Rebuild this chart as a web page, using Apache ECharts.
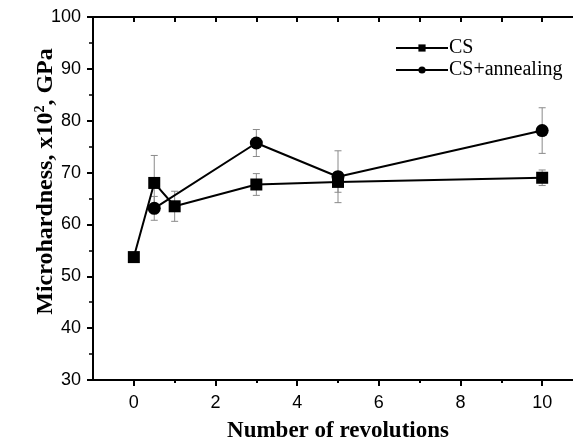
<!DOCTYPE html>
<html>
<head>
<meta charset="utf-8">
<script src="https://cdn.jsdelivr.net/npm/echarts@6/dist/echarts.min.js"></script>
<style>
  html, body { margin: 0; padding: 0; background: #fff; }
  #chart { width: 573px; height: 438px; }
</style>
</head>
<body>
<div id="chart"></div>
<script>
// number of revolutions
const revsCS = [0, 0.5, 1, 3, 5, 10]
const revsAnn = [0.5, 3, 5, 10]
// microhardness, x10^2 GPa
const cs = [53.7, 68.0, 63.5, 67.7, 68.2, 69.0]
const csErr = [0, 5.3, 2.9, 2.1, 2.0, 1.5]
const ann = [63.1, 75.7, 69.2, 78.1]
const annErr = [2.3, 2.6, 5.0, 4.4]
const xMajor = [0, 2, 4, 6, 8, 10]
const xMinor = [1, 3, 5, 7, 9]
const xAll = [0, 1, 2, 3, 4, 5, 6, 7, 8, 9, 10]

const serif = '"Liberation Serif", "Times New Roman", serif'
const sans = '"Liberation Sans", Arial, sans-serif'

function pairs(xs, ys) {
  return xs.map((x, i) => [x, ys[i]])
}
function errData(xs, ys, es) {
  return xs.map((x, i) => [x, ys[i] - es[i], ys[i] + es[i]])
}

// error bar with caps
function renderErr(params, api) {
  const lo = api.coord([api.value(0), api.value(1)])
  const hi = api.coord([api.value(0), api.value(2)])
  const cap = 3.5
  const style = { stroke: '#8a8a8a', lineWidth: 1 }
  return {
    type: 'group',
    children: [
      { type: 'line', shape: { x1: lo[0], y1: lo[1], x2: hi[0], y2: hi[1] }, style },
      { type: 'line', shape: { x1: lo[0] - cap, y1: lo[1], x2: lo[0] + cap, y2: lo[1] }, style },
      { type: 'line', shape: { x1: hi[0] - cap, y1: hi[1], x2: hi[0] + cap, y2: hi[1] }, style }
    ]
  }
}

const chart = echarts.init(document.getElementById('chart'))

const axisLine = { show: true, onZero: false, lineStyle: { color: '#000', width: 2 } }

const option = {
  animation: false,
  grid: { left: 93, top: 17, right: -10, bottom: 58, outerBoundsMode: 'none', containLabel: false },
  legend: {
    orient: 'vertical',
    left: 390,
    top: 33,
    itemWidth: 52,
    itemHeight: 9,
    itemGap: 2,
    textStyle: { fontFamily: serif, fontSize: 20, color: '#000', padding: [0, 0, 0, -4] },
    data: ['CS', 'CS+annealing']
  },
  xAxis: [
    {
      type: 'value',
      min: -1,
      max: 11,
      position: 'bottom',
      axisLine,
      splitLine: { show: false },
      axisTick: { show: true, customValues: xMajor, length: 6, inside: false, lineStyle: { color: '#000', width: 2 } },
      axisLabel: { customValues: xMajor, fontFamily: sans, fontSize: 18, color: '#000', margin: 14 },
      name: 'Number of revolutions',
      nameLocation: 'middle',
      nameGap: 40,
      nameMoveOverlap: false,
      nameTextStyle: { fontFamily: serif, fontSize: 23, fontWeight: 'bold', color: '#000' }
    },
    {
      type: 'value',
      min: -1,
      max: 11,
      position: 'bottom',
      axisLine: { show: false, onZero: false },
      splitLine: { show: false },
      axisTick: { show: true, customValues: xMinor, length: 3, lineStyle: { color: '#000', width: 2 } },
      axisLabel: { show: false }
    },
    {
      type: 'value',
      min: -1,
      max: 11,
      position: 'top',
      axisLine,
      splitLine: { show: false },
      axisTick: { show: true, customValues: xAll, length: 5, inside: true, lineStyle: { color: '#000', width: 2 } },
      axisLabel: { show: false }
    }
  ],
  yAxis: {
    type: 'value',
    min: 30,
    max: 100,
    interval: 10,
    position: 'left',
    axisLine,
    splitLine: { show: false },
    axisTick: { show: true, length: 6, lineStyle: { color: '#000', width: 2 } },
    minorTick: { show: true, splitNumber: 2, length: 4, lineStyle: { color: '#000', width: 1.5 } },
    axisLabel: { fontFamily: sans, fontSize: 18, color: '#000', margin: 12 },
    name: 'Microhardness, x10{sup|2}, GPa',
    nameLocation: 'middle',
    nameGap: 35,
    nameMoveOverlap: false,
    nameTextStyle: {
      fontFamily: serif, fontSize: 24, fontWeight: 'bold', color: '#000',
      padding: [0, 0, 0, 34],
      rich: {
        sup: { fontFamily: serif, fontSize: 14, fontWeight: 'bold', color: '#000', verticalAlign: 'top', padding: [0, 0, 11, 0] }
      }
    }
  },
  series: [
    {
      type: 'custom',
      renderItem: renderErr,
      data: errData(revsAnn, ann, annErr),
      z: 1,
      silent: true
    },
    {
      type: 'custom',
      renderItem: renderErr,
      data: errData(revsCS, cs, csErr),
      z: 1,
      silent: true
    },
    {
      name: 'CS',
      type: 'line',
      data: pairs(revsCS, cs),
      symbol: 'rect',
      symbolSize: 12,
      color: '#000',
      lineStyle: { color: '#000', width: 2 },
      itemStyle: { color: '#000' },
      z: 3
    },
    {
      name: 'CS+annealing',
      type: 'line',
      data: pairs(revsAnn, ann),
      symbol: 'circle',
      symbolSize: 13,
      color: '#000',
      lineStyle: { color: '#000', width: 2 },
      itemStyle: { color: '#000' },
      z: 3
    }
  ]
}

chart.setOption(option)
</script>
</body>
</html>
